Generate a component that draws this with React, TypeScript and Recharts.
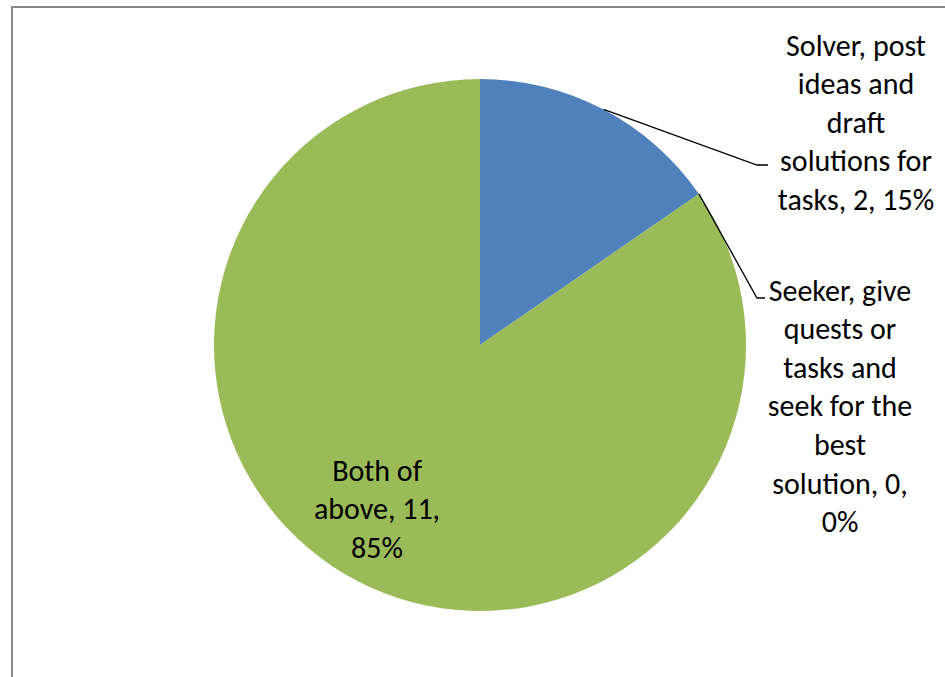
import React from 'react';
import { PieChart, Pie, Cell } from 'recharts';

const categories = [
  'Solver, post ideas and draft solutions for tasks',
  'Seeker, give quests or tasks and seek for the best solution',
  'Both of above',
];
const counts = [2, 0, 11];
const colors = ['#4F81BD', '#C0504D', '#9BBB59'];

const data = categories.map((name, i) => ({ name, value: counts[i] }));

// label placement per slice: elbow offset from pie centre, end of leader, text offset
const labelLayout = [
  { leader: true, ex: 277, ey: -180, endDx: 11, tx: 88, ty: -120 },
  { leader: true, ex: 277, ey: -47, endDx: 8, tx: 75, ty: -8 },
  { leader: false, ex: -103, ey: 125, endDx: 0, tx: 0, ty: 0 },
];

const LINE_H = 38.6;
const FONT = 'Carlito, Calibri, Lato, sans-serif';

const wrap = (s: string, max: number) => {
  const words = s.split(' ');
  const lines: string[] = [];
  let cur = '';
  words.forEach((w) => {
    const next = cur ? cur + ' ' + w : w;
    if (next.length > max && cur) {
      lines.push(cur);
      cur = w;
    } else {
      cur = next;
    }
  });
  if (cur) lines.push(cur);
  return lines;
};

const renderLabel = (props: any) => {
  const { cx, cy, midAngle, outerRadius, index, name, value, percent } = props;
  const RAD = Math.PI / 180;
  const lay = labelLayout[index];
  const sx = cx + outerRadius * Math.cos(-midAngle * RAD);
  const sy = cy + outerRadius * Math.sin(-midAngle * RAD);
  const mx = cx + lay.ex;
  const my = cy + lay.ey;
  const endX = mx + lay.endDx;
  const lines = wrap(`${name}, ${value}, ${Math.round(percent * 100)}%`, 13);
  const textX = lay.leader ? endX + lay.tx : mx;
  const textY = lay.leader ? my + lay.ty : my;
  return (
    <g key={`lbl-${index}`}>
      {lay.leader && (
        <polyline
          points={`${sx},${sy} ${mx},${my} ${endX},${my}`}
          fill="none"
          stroke="#000"
          strokeWidth={1.3}
        />
      )}
      {lines.map((ln, i) => (
        <text
          key={i}
          x={textX}
          y={textY + i * LINE_H}
          textAnchor="middle"
          dominantBaseline="central"
          fontFamily={FONT}
          fontSize={30}
          fill="#000"
        >
          {ln}
        </text>
      ))}
    </g>
  );
};

export default function App() {
  return (
    <div style={{ position: 'absolute', left: 0, top: 0, width: 945, height: 677, overflow: 'hidden', background: '#fff' }}>
      <div style={{ position: 'absolute', left: 11, top: 6, width: 1000, height: 1000, border: '2px solid #878787' }} />
      <div style={{ position: 'absolute', left: 0, top: 0 }}>
        <PieChart width={945} height={677} margin={{ top: 0, right: 0, bottom: 0, left: 0 }}>
          <Pie
            data={data}
            dataKey="value"
            nameKey="name"
            cx={480}
            cy={345}
            outerRadius={266}
            startAngle={90}
            endAngle={-270}
            stroke="none"
            label={renderLabel}
            labelLine={false}
            isAnimationActive={false}
          >
            {data.map((d, i) => (
              <Cell key={d.name} fill={colors[i]} />
            ))}
          </Pie>
        </PieChart>
      </div>
    </div>
  );
}
